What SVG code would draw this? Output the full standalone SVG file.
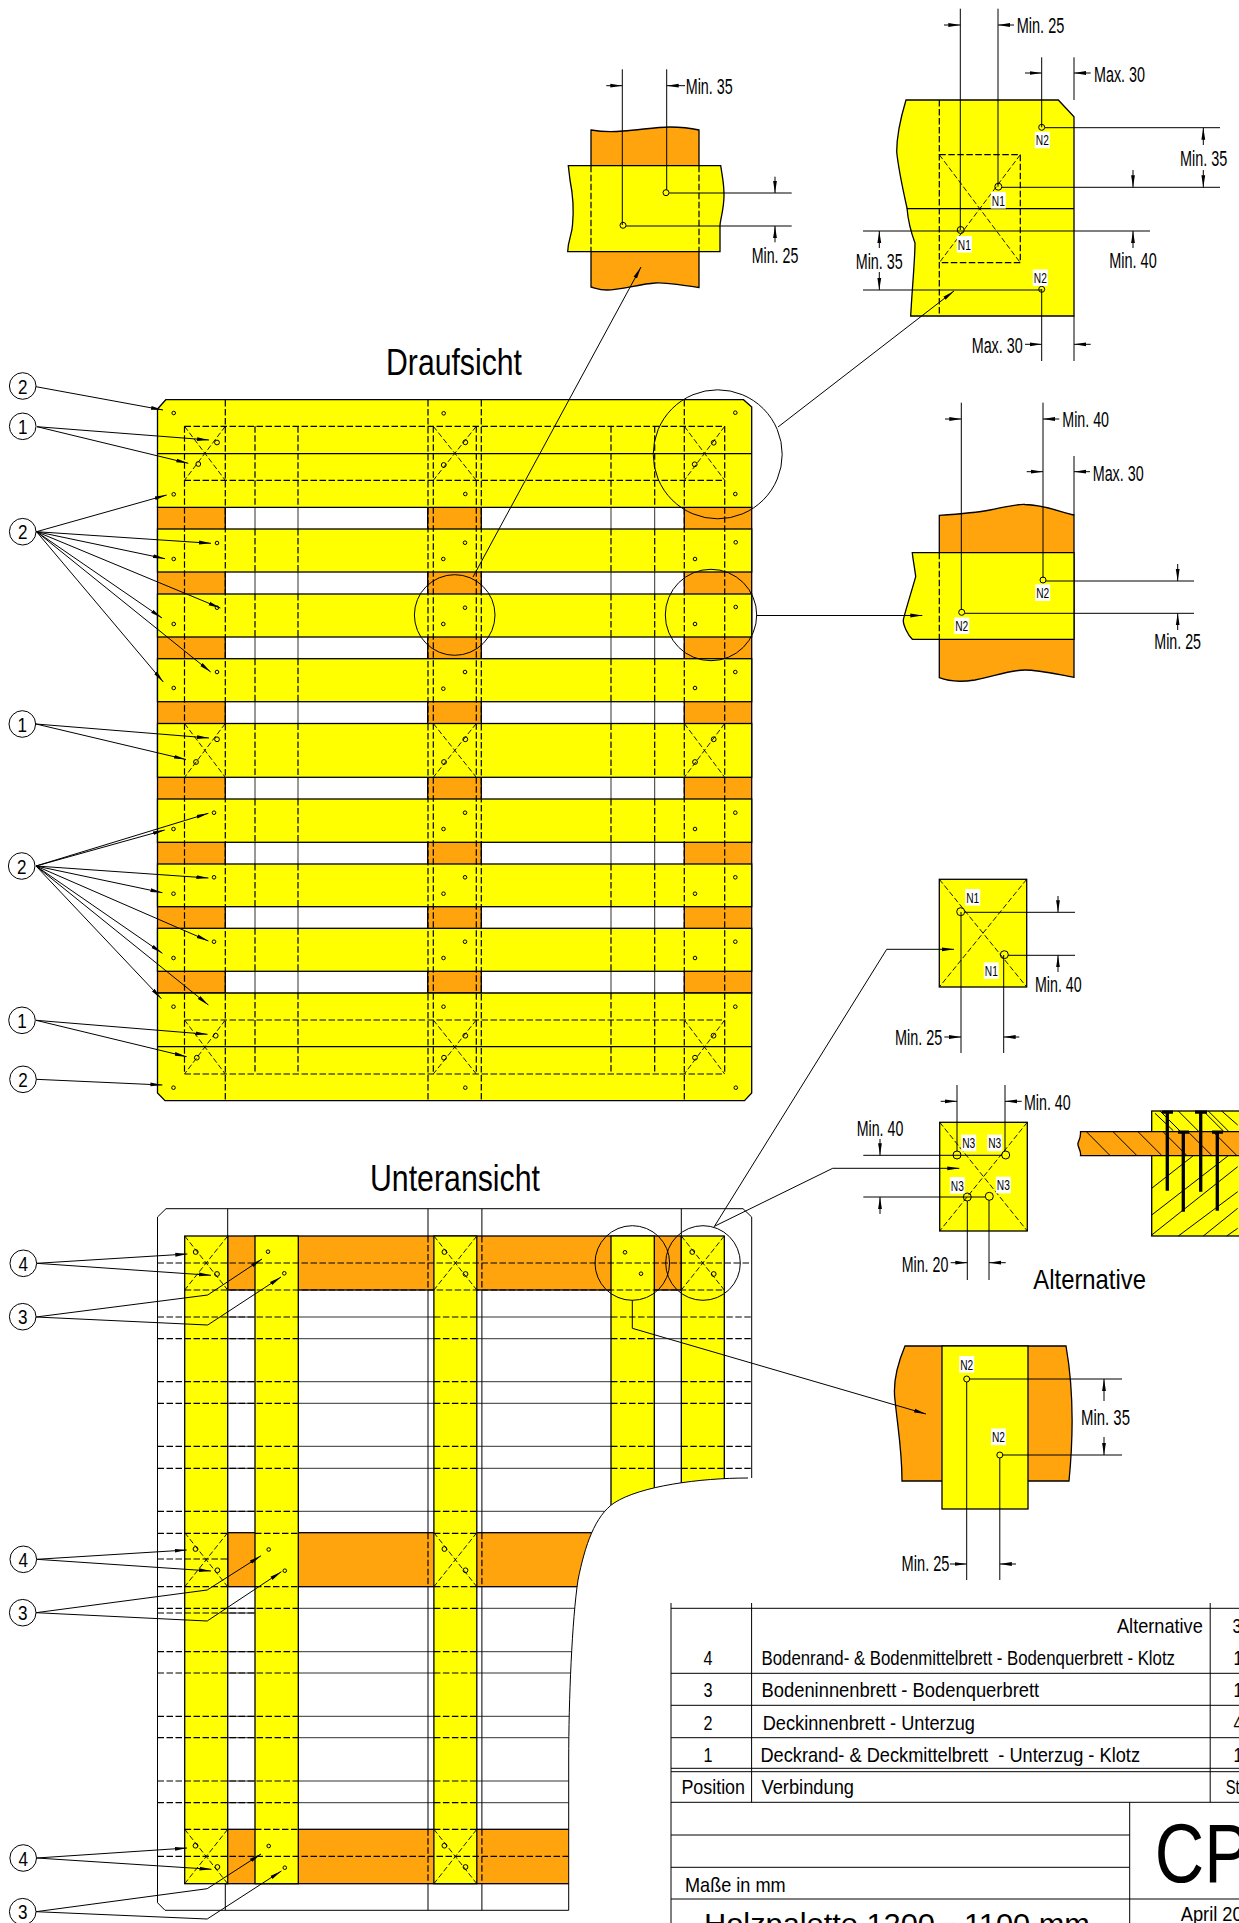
<svg xmlns="http://www.w3.org/2000/svg" width="1239" height="1923" viewBox="0 0 1239 1923">
<style>
text{font-family:"Liberation Sans",Arial,sans-serif;fill:#000}
.t{font-size:36px}.m{font-size:22px}.b{font-size:21px}.k{font-size:21px;text-anchor:middle}
.n{font-size:14.5px;text-anchor:middle}
.y{fill:#ff0;stroke:#000;stroke-width:1.3}.o{fill:#ffa40c;stroke:#000;stroke-width:1.3}
.l{fill:none;stroke:#000;stroke-width:1}.h{fill:none;stroke:#000;stroke-width:1.3}
.g{fill:none;stroke:#333;stroke-width:1}
.d{fill:none;stroke:#000;stroke-width:1.2;stroke-dasharray:6.5 2.5}
.x{fill:none;stroke:#000;stroke-width:.9;stroke-dasharray:5.5 2.5}
.c{fill:none;stroke:#000;stroke-width:1}.r{fill:none;stroke:#000;stroke-width:1}
.q{fill:#fff;stroke:#000;stroke-width:1}
.a{fill:none;stroke:#000;stroke-width:1;marker-end:url(#ah)}
.w{fill:#fff;stroke:none}
.z{fill:none;stroke:#000;stroke-width:3.3}
</style>
<defs>
<marker id="ah" markerUnits="userSpaceOnUse" markerWidth="13" markerHeight="6" refX="12" refY="3" orient="auto"><path d="M0 1.1L12 3L0 4.9z" fill="#000"/></marker>
<clipPath id="brk"><path d="M157 1217L166 1208H743L752 1217V1478H748C700 1478 640 1486 614 1503C595 1516 585 1545 578 1580C572 1620 568.7 1700 568.7 1760V1911H165L157 1903Z"/></clipPath>
</defs>

<g id="title-top"><text class="t" x="386" y="375" textLength="136" lengthAdjust="spacingAndGlyphs">Draufsicht</text></g>
<g id="title-bottom"><text class="t" x="370" y="1190.7" textLength="170" lengthAdjust="spacingAndGlyphs">Unteransicht</text></g>

<g id="top-view">
<path class="g" d="M255 507V993M298 507V993M611 507V993M654.7 507V993"/>
<rect class="o" x="157.5" y="507" width="67.8" height="486"/>
<rect class="o" x="427.7" y="507" width="53.6" height="486"/>
<rect class="o" x="684.3" y="507" width="67.4" height="486"/>
<path class="y" d="M157.5 409L165.8 399.7H743.5L751.7 407V507.3H157.5Z"/>
<rect class="y" x="157.5" y="529" width="594.2" height="43"/>
<rect class="y" x="157.5" y="594" width="594.2" height="43"/>
<rect class="y" x="157.5" y="658.7" width="594.2" height="43"/>
<rect class="y" x="157.5" y="723.5" width="594.2" height="53.8"/>
<rect class="y" x="157.5" y="799" width="594.2" height="43.3"/>
<rect class="y" x="157.5" y="864" width="594.2" height="42.7"/>
<rect class="y" x="157.5" y="928.3" width="594.2" height="43"/>
<path class="y" d="M157.5 993H751.7V1093L744.5 1100.7H165L157.5 1093Z"/>
<path class="h" d="M157.5 453.7H751.7M157.5 1046.7H751.7"/>
<path class="d" d="M184.5 426.3V1074M225.3 400V1100.7M255 426.3V507M255 529V572M255 594V637M255 658.7V701.7M255 723.5V777.3M255 799V842.3M255 864V906.7M255 928.3V971.3M255 993V1074M298 426.3V507M298 529V572M298 594V637M298 658.7V701.7M298 723.5V777.3M298 799V842.3M298 864V906.7M298 928.3V971.3M298 993V1074M428 400V1100.7M433.3 426.3V1074M476.3 426.3V1074M481.3 400V1100.7M611 426.3V507M611 529V572M611 594V637M611 658.7V701.7M611 723.5V777.3M611 799V842.3M611 864V906.7M611 928.3V971.3M611 993V1074M654.7 426.3V507M654.7 529V572M654.7 594V637M654.7 658.7V701.7M654.7 723.5V777.3M654.7 799V842.3M654.7 864V906.7M654.7 928.3V971.3M654.7 993V1074M684.3 400V1100.7M724.7 426.3V1074M184.5 426.3H724.7M184.5 480.3H724.7M184.5 1020H724.7M184.5 1074H724.7"/>
<path class="x" d="M184.5 426.3L225.3 480.3M225.3 426.3L184.5 480.3M433.3 426.3L476.3 480.3M476.3 426.3L433.3 480.3M684.3 426.3L724.7 480.3M724.7 426.3L684.3 480.3M184.5 723.5L225.3 777.3M225.3 723.5L184.5 777.3M433.3 723.5L476.3 777.3M476.3 723.5L433.3 777.3M684.3 723.5L724.7 777.3M724.7 723.5L684.3 777.3M184.5 1020L225.3 1074M225.3 1020L184.5 1074M433.3 1020L476.3 1074M476.3 1020L433.3 1074M684.3 1020L724.7 1074M724.7 1020L684.3 1074"/>
<g id="top-rivets">
<circle class="r" cx="173.7" cy="413" r="1.8"/><circle class="r" cx="443.7" cy="413.3" r="1.8"/><circle class="r" cx="735.3" cy="412.7" r="1.8"/>
<circle class="r" cx="217" cy="442.5" r="2.4"/><circle class="r" cx="198.3" cy="464" r="2.4"/><circle class="r" cx="465.3" cy="442.3" r="2.4"/><circle class="r" cx="443.7" cy="465" r="2.4"/><circle class="r" cx="713.7" cy="442.7" r="2.4"/><circle class="r" cx="694.7" cy="464.3" r="2.4"/>
<circle class="r" cx="173.7" cy="494.3" r="1.8"/><circle class="r" cx="465.3" cy="494" r="1.8"/><circle class="r" cx="735.3" cy="494" r="1.8"/>
<circle class="r" cx="217" cy="543" r="1.8"/><circle class="r" cx="173.7" cy="559" r="1.8"/><circle class="r" cx="465" cy="542.7" r="1.8"/><circle class="r" cx="443.3" cy="559" r="1.8"/><circle class="r" cx="735.7" cy="542.3" r="1.8"/><circle class="r" cx="695" cy="559" r="1.8"/>
<circle class="r" cx="217" cy="607.7" r="1.8"/><circle class="r" cx="173.7" cy="624" r="1.8"/><circle class="r" cx="465" cy="607.7" r="1.8"/><circle class="r" cx="443.3" cy="624" r="1.8"/><circle class="r" cx="735.7" cy="607" r="1.8"/><circle class="r" cx="695" cy="624" r="1.8"/>
<circle class="r" cx="217" cy="672" r="1.8"/><circle class="r" cx="173.7" cy="688" r="1.8"/><circle class="r" cx="465" cy="672" r="1.8"/><circle class="r" cx="443.3" cy="688.7" r="1.8"/><circle class="r" cx="735.3" cy="672" r="1.8"/><circle class="r" cx="695" cy="688" r="1.8"/>
<circle class="r" cx="217" cy="739.3" r="2.4"/><circle class="r" cx="196" cy="762" r="2.4"/><circle class="r" cx="465.3" cy="739.3" r="2.4"/><circle class="r" cx="444" cy="762" r="2.4"/><circle class="r" cx="713.7" cy="739.3" r="2.4"/><circle class="r" cx="695" cy="762" r="2.4"/>
<circle class="r" cx="214" cy="812.7" r="1.8"/><circle class="r" cx="173.5" cy="829" r="1.8"/><circle class="r" cx="465" cy="812.7" r="1.8"/><circle class="r" cx="443.5" cy="829" r="1.8"/><circle class="r" cx="735.3" cy="812.7" r="1.8"/><circle class="r" cx="695" cy="829" r="1.8"/>
<circle class="r" cx="214" cy="877.3" r="1.8"/><circle class="r" cx="173.5" cy="893.7" r="1.8"/><circle class="r" cx="465" cy="877.3" r="1.8"/><circle class="r" cx="443.5" cy="893.7" r="1.8"/><circle class="r" cx="735.3" cy="877.3" r="1.8"/><circle class="r" cx="695" cy="893.7" r="1.8"/>
<circle class="r" cx="214" cy="941.7" r="1.8"/><circle class="r" cx="173.5" cy="958" r="1.8"/><circle class="r" cx="465" cy="941.7" r="1.8"/><circle class="r" cx="443.5" cy="958" r="1.8"/><circle class="r" cx="735.3" cy="941.7" r="1.8"/><circle class="r" cx="695" cy="958" r="1.8"/>
<circle class="r" cx="173.5" cy="1006.7" r="1.8"/><circle class="r" cx="443.5" cy="1006.7" r="1.8"/><circle class="r" cx="735.3" cy="1006.7" r="1.8"/>
<circle class="r" cx="215.7" cy="1035.7" r="2.4"/><circle class="r" cx="196.8" cy="1057.7" r="2.4"/><circle class="r" cx="465.3" cy="1035.7" r="2.4"/><circle class="r" cx="444" cy="1057.7" r="2.4"/><circle class="r" cx="713.5" cy="1035.7" r="2.4"/><circle class="r" cx="695" cy="1057.7" r="2.4"/>
<circle class="r" cx="173.5" cy="1087.7" r="1.8"/><circle class="r" cx="465.3" cy="1087.7" r="1.8"/><circle class="r" cx="735.8" cy="1087.7" r="1.8"/>
</g>
<g id="top-magnifiers">
<circle class="c" cx="717.7" cy="454.3" r="64.5"/><circle class="c" cx="454.7" cy="615" r="40.3"/><circle class="c" cx="711" cy="615" r="45.7"/>
</g>
</g>

<g id="bottom-view">
<path class="l" d="M157.5 1902.7V1217L166 1208.7H743L751.7 1217V1478M157.5 1902.7L165 1910.3H568.7M227.7 1208.7V1236M681.3 1208.7V1236M225.3 1883.7V1910.3"/>
<g clip-path="url(#brk)">
<path class="g" d="M184.7 1317H724M184.7 1338.7H724M184.7 1381.7H724M184.7 1403.3H724M184.7 1446.3H724M184.7 1468.3H724M184.7 1511.3H724M184.7 1608.3H724M184.7 1651.7H724M184.7 1673H724M184.7 1716.3H724M184.7 1737.7H724M184.7 1781H724M184.7 1802.7H724M227.7 1613H255"/>
<path class="l" d="M428 1208.7V1910.3M481.9 1208.7V1910.3"/>
<rect class="o" x="227.7" y="1236" width="453.6" height="54"/>
<rect class="o" x="227.7" y="1532.7" width="453.6" height="54"/>
<rect class="o" x="225.3" y="1829.3" width="500" height="54.4"/>
<rect class="y" x="184.7" y="1236" width="43" height="647.7"/>
<rect class="y" x="255" y="1236" width="43.3" height="647.7"/>
<rect class="y" x="433.9" y="1236" width="42.9" height="647.7"/>
<rect class="y" x="611" y="1236" width="43.3" height="647.7"/>
<rect class="y" x="681.3" y="1236" width="43" height="647.7"/>
<path class="d" d="M157.5 1263H751.7M184.7 1290H724.3M157.5 1317H298.3M433.9 1317H476.8M611 1317H654.3M681.3 1317H751.7M157.5 1338.7H298.3M433.9 1338.7H476.8M611 1338.7H654.3M681.3 1338.7H751.7M157.5 1381.7H298.3M433.9 1381.7H476.8M611 1381.7H654.3M681.3 1381.7H751.7M157.5 1403.3H298.3M433.9 1403.3H476.8M611 1403.3H654.3M681.3 1403.3H751.7M157.5 1446.3H298.3M433.9 1446.3H476.8M611 1446.3H654.3M681.3 1446.3H751.7M157.5 1468.3H298.3M433.9 1468.3H476.8M611 1468.3H654.3M681.3 1468.3H751.7M157.5 1511.3H298.3M433.9 1511.3H476.8M157.5 1533.3H227.7M255 1533.3H298.3M433.9 1533.3H476.8M157.5 1559H227.7M157.5 1586.7H227.7M255 1586.7H298.3M433.9 1586.7H476.8M157.5 1608.3H298.3M433.9 1608.3H476.8M157.5 1613H255M157.5 1651.7H298.3M433.9 1651.7H476.8M157.5 1673H298.3M433.9 1673H476.8M157.5 1716.3H298.3M433.9 1716.3H476.8M157.5 1737.7H298.3M433.9 1737.7H476.8M157.5 1781H298.3M433.9 1781H476.8M157.5 1802.7H298.3M433.9 1802.7H476.8M184.7 1829.3H227.7M255 1829.3H298.3M433.9 1829.3H476.8M157.5 1856.3H568.7M428 1236V1290M481.9 1236V1290M428 1532.7V1586.7M481.9 1532.7V1586.7M428 1829.3V1883.7M481.9 1829.3V1883.7"/>
</g>
<path class="x" d="M184.7 1236L227.7 1290M227.7 1236L184.7 1290M433.9 1236L476.8 1290M476.8 1236L433.9 1290M681.3 1236L724.3 1290M724.3 1236L681.3 1290M184.7 1532.7L227.7 1586.7M227.7 1532.7L184.7 1586.7M433.9 1532.7L476.8 1586.7M476.8 1532.7L433.9 1586.7M184.7 1829.3L227.7 1883.7M227.7 1829.3L184.7 1883.7M433.9 1829.3L476.8 1883.7M476.8 1829.3L433.9 1883.7"/>
<path class="l" d="M748 1478C700 1478 640 1486 614 1503C595 1516 585 1545 578 1580C572 1620 568.7 1700 568.7 1760V1910.3"/>
<g id="bottom-rivets">
<circle class="r" cx="195.7" cy="1252" r="2.4"/><circle class="r" cx="217" cy="1274" r="2.4"/><circle class="r" cx="268" cy="1251.7" r="1.8"/><circle class="r" cx="284.3" cy="1273.3" r="1.8"/><circle class="r" cx="444.4" cy="1252" r="2.4"/><circle class="r" cx="465.5" cy="1274" r="2.4"/><circle class="r" cx="625" cy="1252.3" r="1.8"/><circle class="r" cx="641" cy="1273.7" r="1.8"/><circle class="r" cx="692.3" cy="1252" r="2.4"/><circle class="r" cx="713.7" cy="1274" r="2.4"/>
<circle class="r" cx="195.5" cy="1549" r="2.4"/><circle class="r" cx="217.4" cy="1570.3" r="2.4"/><circle class="r" cx="268.7" cy="1549.5" r="1.8"/><circle class="r" cx="284.8" cy="1570.7" r="1.8"/><circle class="r" cx="444.4" cy="1549" r="2.4"/><circle class="r" cx="465.5" cy="1570.3" r="2.4"/>
<circle class="r" cx="195.5" cy="1845.7" r="2.4"/><circle class="r" cx="217.4" cy="1867" r="2.4"/><circle class="r" cx="268.7" cy="1846" r="1.8"/><circle class="r" cx="284.8" cy="1867.7" r="1.8"/><circle class="r" cx="444.4" cy="1845.7" r="2.4"/><circle class="r" cx="465.5" cy="1867" r="2.4"/>
</g>
<g id="bottom-magnifiers"><circle class="c" cx="632.3" cy="1263" r="37.3"/><circle class="c" cx="703" cy="1263" r="37.3"/></g>
</g>

<g id="detail-1">
<path class="o" d="M591 130C603 132 612 132 623 131C640 130 655 127 670 127C685 127 690 128 699 130V287.5C680 285 665 282 655 283C640 284 620 290 607 290C600 290 595 288 591 287Z"/>
<path class="y" d="M568.3 165.7H720.7C722 175 724 182 724 195C724 210 720 220 720 226V251.7H567.7C568 240 572 235 572.5 225C574 210 573 195 570 180Z"/>
<path class="d" d="M591 165.7V251.7M699 165.7V251.7"/>
<path class="l" d="M622.3 69.3V225M666.7 69.3V190M669.3 193H791.7M626 226H791.7"/>
<circle class="r" cx="666" cy="192.7" r="3"/><circle class="r" cx="623" cy="225.3" r="3"/>
<path class="a" d="M606.3 85.7H622.3"/><path class="a" d="M685 85.7H666.7"/><path class="a" d="M775 176.7V193"/><path class="a" d="M775 242.3V226"/>
<text class="m" x="685.7" y="94" textLength="47" lengthAdjust="spacingAndGlyphs">Min. 35</text>
<text class="m" x="751.7" y="262.7" textLength="46.6" lengthAdjust="spacingAndGlyphs">Min. 25</text>
</g>

<g id="detail-2">
<path class="y" d="M906 100H1058.3L1074 116.7V316H910.7C912 290 915 260 915 243C912 235 908 220 907 208C903 190 898 165 896.7 151.7C896.7 140 900 120 906 100Z"/>
<path class="h" d="M906.7 208.7H1074"/>
<path class="d" d="M939.3 100V316M939.3 154.7H1020.3V262.7H939.3"/>
<path class="x" d="M939.3 154.7L1020.3 262.7M1020.3 154.7L939.3 262.7"/>
<path class="l" d="M960.3 8.7V230M998 8.7V186.7M1041.7 57.3V127.3M1074 57.3V100M1074 316V361M1041.7 289V361M1045 127.7H1220M1002 187.3H1220M863 231H1150M863 290H1041.7"/>
<circle class="r" cx="1041.7" cy="127.3" r="3"/><circle class="r" cx="998.3" cy="186.7" r="3.5"/><circle class="r" cx="960.7" cy="230" r="3.5"/><circle class="r" cx="1041.7" cy="289.3" r="3"/>
<path class="a" d="M944 25H960.3"/><path class="a" d="M1014 25H998"/><path class="a" d="M1025 73H1041.7"/><path class="a" d="M1090.7 73H1074"/>
<path class="a" d="M1203.3 145V127.7"/><path class="a" d="M1203.3 170V187.3"/><path class="a" d="M1133 170V187.3"/><path class="a" d="M1133 248V231"/><path class="a" d="M879.3 248V231"/><path class="a" d="M879.3 272V290"/><path class="a" d="M1025 344.3H1041.7"/><path class="a" d="M1090.7 344.3H1074"/>
<text class="m" x="1016.7" y="33.3" textLength="47.6" lengthAdjust="spacingAndGlyphs">Min. 25</text>
<text class="m" x="1094" y="81.7" textLength="51" lengthAdjust="spacingAndGlyphs">Max. 30</text>
<text class="m" x="1180" y="165.7" textLength="47.3" lengthAdjust="spacingAndGlyphs">Min. 35</text>
<text class="m" x="1109.3" y="267.7" textLength="47.4" lengthAdjust="spacingAndGlyphs">Min. 40</text>
<text class="m" x="855.7" y="269" textLength="47" lengthAdjust="spacingAndGlyphs">Min. 35</text>
<text class="m" x="971.7" y="353.3" textLength="51" lengthAdjust="spacingAndGlyphs">Max. 30</text>
<g><rect class="w" x="1034.8" y="131.7" width="15" height="16.6"/><text class="n" x="1042.3" y="145.2" textLength="13" lengthAdjust="spacingAndGlyphs">N2</text></g>
<g><rect class="w" x="990.8" y="192" width="15" height="16.6"/><text class="n" x="998.3" y="205.5" textLength="13" lengthAdjust="spacingAndGlyphs">N1</text></g>
<g><rect class="w" x="956.8" y="236" width="15" height="16.6"/><text class="n" x="964.3" y="249.5" textLength="13" lengthAdjust="spacingAndGlyphs">N1</text></g>
<g><rect class="w" x="1032.8" y="269.4" width="15" height="16.6"/><text class="n" x="1040.3" y="282.9" textLength="13" lengthAdjust="spacingAndGlyphs">N2</text></g>
</g>

<g id="detail-3">
<path class="o" d="M939.3 515.3C960 514 975 513 990 510C1005 507 1015 504 1025 504.5C1045 505 1060 512 1074 515V677.3C1060 675 1040 670 1025 670C1010 670 995 676 975 680C962 682 950 682 939.3 677.7Z"/>
<path class="y" d="M912.3 552.7H1074V639.3H912.3C908 635 903 625 903.3 620C905 612 912 590 915.7 576.7C915 570 913 560 912.3 552.7Z"/>
<path class="d" d="M939.3 552.7V639.3"/>
<path class="l" d="M961.3 402.7V610M1043 402.7V578M1074 456V515.3M1046 581H1194M965 613.3H1194"/>
<circle class="r" cx="1043" cy="580" r="3"/><circle class="r" cx="961.7" cy="612.3" r="3"/>
<path class="a" d="M945 419H961.3"/><path class="a" d="M1059.3 419H1043"/><path class="a" d="M1026.7 471.7H1043"/><path class="a" d="M1090 471.7H1074"/><path class="a" d="M1177.7 564V581"/><path class="a" d="M1177.7 630V613.3"/>
<text class="m" x="1062.3" y="427.3" textLength="46.7" lengthAdjust="spacingAndGlyphs">Min. 40</text>
<text class="m" x="1092.7" y="480.7" textLength="51" lengthAdjust="spacingAndGlyphs">Max. 30</text>
<text class="m" x="1154.3" y="649.3" textLength="46.7" lengthAdjust="spacingAndGlyphs">Min. 25</text>
<g><rect class="w" x="1035.2" y="584.4" width="15" height="16.6"/><text class="n" x="1042.7" y="597.9" textLength="13" lengthAdjust="spacingAndGlyphs">N2</text></g>
<g><rect class="w" x="954.2" y="617.4" width="15" height="16.6"/><text class="n" x="961.7" y="630.9" textLength="13" lengthAdjust="spacingAndGlyphs">N2</text></g>
</g>

<g id="detail-4">
<rect class="y" x="939.3" y="879.3" width="87.4" height="107.7"/>
<path class="x" d="M939.3 879.3L1026.7 987M1026.7 879.3L939.3 987"/>
<path class="l" d="M965 912.3H1075M1008 955.3H1075M961 912V1053M1003.7 955V1053"/>
<circle class="r" cx="960.7" cy="911.7" r="4"/><circle class="r" cx="1004.3" cy="954.7" r="4"/>
<path class="a" d="M1058 896V912.3"/><path class="a" d="M1058 972V955.3"/><path class="a" d="M944.3 1037H961"/><path class="a" d="M1019.3 1037H1003.7"/>
<text class="m" x="1035" y="992" textLength="46.7" lengthAdjust="spacingAndGlyphs">Min. 40</text>
<text class="m" x="895" y="1045" textLength="47.3" lengthAdjust="spacingAndGlyphs">Min. 25</text>
<g><rect class="w" x="965.2" y="889" width="15" height="16.6"/><text class="n" x="972.7" y="902.5" textLength="13" lengthAdjust="spacingAndGlyphs">N1</text></g>
<g><rect class="w" x="983.8" y="962.4" width="15" height="16.6"/><text class="n" x="991.3" y="975.9" textLength="13" lengthAdjust="spacingAndGlyphs">N1</text></g>
</g>

<g id="detail-5">
<rect class="y" x="939.7" y="1122.3" width="87.6" height="108.7"/>
<path class="x" d="M939.7 1122.3L1027.3 1231M1027.3 1122.3L939.7 1231"/>
<path class="l" d="M957 1085V1151M1005 1085V1151M863.3 1155.3H1002M863.3 1197H985.3M967.3 1201V1280M989 1200V1280"/>
<circle class="r" cx="957" cy="1155" r="4"/><circle class="r" cx="1005.7" cy="1155" r="4"/><circle class="r" cx="967.3" cy="1197" r="4"/><circle class="r" cx="989.3" cy="1196.3" r="4"/>
<path class="a" d="M940.7 1101.3H957"/><path class="a" d="M1021.7 1101.3H1005"/><path class="a" d="M880 1139V1155.3"/><path class="a" d="M880 1214V1197"/><path class="a" d="M950.7 1262.7H967.3"/><path class="a" d="M1005.7 1262.7H989"/>
<text class="m" x="1024" y="1110" textLength="46.7" lengthAdjust="spacingAndGlyphs">Min. 40</text>
<text class="m" x="856.7" y="1136" textLength="46.6" lengthAdjust="spacingAndGlyphs">Min. 40</text>
<text class="m" x="901.7" y="1271.7" textLength="46.6" lengthAdjust="spacingAndGlyphs">Min. 20</text>
<g><rect class="w" x="961.2" y="1134.7" width="15" height="16.6"/><text class="n" x="968.7" y="1148.2" textLength="13" lengthAdjust="spacingAndGlyphs">N3</text></g>
<g><rect class="w" x="987.2" y="1134.7" width="15" height="16.6"/><text class="n" x="994.7" y="1148.2" textLength="13" lengthAdjust="spacingAndGlyphs">N3</text></g>
<g><rect class="w" x="949.8" y="1177" width="15" height="16.6"/><text class="n" x="957.3" y="1190.5" textLength="13" lengthAdjust="spacingAndGlyphs">N3</text></g>
<g><rect class="w" x="995.8" y="1176.7" width="15" height="16.6"/><text class="n" x="1003.3" y="1190.2" textLength="13" lengthAdjust="spacingAndGlyphs">N3</text></g>
</g>

<g id="section">
<rect class="y" x="1151.7" y="1111" width="90" height="125"/>
<path class="l" d="M1155 1113.3L1173.3 1130.7M1160 1111L1180 1131M1178.3 1111L1198.3 1131M1203.3 1111L1223.3 1131M1208.3 1111L1228.3 1131M1221.7 1111L1237.7 1125M1151.7 1188.3L1193.3 1155.7M1151.7 1215L1228.3 1155.7M1151.7 1235L1237.7 1166.7M1178.3 1236L1237.7 1191.7M1203.3 1236L1237.7 1208.3M1226.7 1236L1237.7 1228.3"/>
<path class="o" d="M1080.5 1131.7H1241V1155.7H1080.5C1081.5 1150 1077 1147 1078 1143C1079.5 1139 1081 1137 1080.5 1131.7Z"/>
<path class="l" d="M1086.7 1132L1110 1155.5M1113.3 1132L1136.8 1155.5M1138.3 1132L1161.8 1155.5M1163.3 1132L1186.8 1155.5M1188.3 1132L1211.8 1155.5M1213.3 1132L1236.8 1155.5"/>
<path class="z" d="M1167.3 1112V1190.7M1200.7 1112V1191.7M1183.3 1132V1211.7M1217.3 1132V1210.7M1162 1112.2H1173M1195 1112.2H1207M1178 1132.2H1189M1212 1132.2H1223"/>
<text class="b" style="font-size:28px" x="1033.3" y="1289.3" textLength="112.7" lengthAdjust="spacingAndGlyphs">Alternative</text>
</g>

<g id="detail-6">
<path class="o" d="M905 1346H1066C1072 1380 1075 1420 1069 1481H902C902 1450 898 1430 895 1400C893 1385 897 1365 905 1346Z"/>
<rect class="y" x="942" y="1346" width="86" height="163"/>
<path class="l" d="M970 1379H1122M1003 1455H1122M966.7 1382V1580M999.8 1458V1580"/>
<circle class="r" cx="966.7" cy="1379" r="3"/><circle class="r" cx="999.8" cy="1455" r="3"/>
<path class="a" d="M1104 1401V1379"/><path class="a" d="M1104 1437V1455"/><path class="a" d="M950 1564H966.7"/><path class="a" d="M1016 1564H999.8"/>
<text class="m" x="1081" y="1425" textLength="49" lengthAdjust="spacingAndGlyphs">Min. 35</text>
<text class="m" x="901.6" y="1571" textLength="47.9" lengthAdjust="spacingAndGlyphs">Min. 25</text>
<g><rect class="w" x="959.2" y="1356" width="15" height="16.6"/><text class="n" x="966.7" y="1369.5" textLength="13" lengthAdjust="spacingAndGlyphs">N2</text></g>
<g><rect class="w" x="991" y="1428.5" width="15" height="16.6"/><text class="n" x="998.5" y="1442" textLength="13" lengthAdjust="spacingAndGlyphs">N2</text></g>
</g>

<g id="title-block">
<path class="l" d="M671 1603V1923M751.6 1603V1802.3M1210.2 1603V1802.3M1129.7 1802.3V1923M671 1608.3H1239M671 1673.3H1239M671 1705.3H1239M671 1737.7H1239M671 1768.3H1239M671 1771.7H1239M671 1802.3H1239M671 1835H1129.7M671 1867.3H1129.7M671 1899H1239"/>
<text class="b" x="1117" y="1632.7" textLength="85.8" lengthAdjust="spacingAndGlyphs">Alternative</text>
<text class="b" x="1232.4" y="1632.7" textLength="9" lengthAdjust="spacingAndGlyphs">3</text>
<text class="k" x="708" y="1665" textLength="9" lengthAdjust="spacingAndGlyphs">4</text>
<text class="b" x="761.5" y="1665" textLength="413.5" lengthAdjust="spacingAndGlyphs">Bodenrand- &amp; Bodenmittelbrett - Bodenquerbrett - Klotz</text>
<text class="b" x="1233.5" y="1665" textLength="9" lengthAdjust="spacingAndGlyphs">1</text>
<text class="k" x="708" y="1697.3" textLength="9" lengthAdjust="spacingAndGlyphs">3</text>
<text class="b" x="761.5" y="1697.3" textLength="277.7" lengthAdjust="spacingAndGlyphs">Bodeninnenbrett - Bodenquerbrett</text>
<text class="b" x="1233.5" y="1697.3" textLength="9" lengthAdjust="spacingAndGlyphs">1</text>
<text class="k" x="708" y="1730" textLength="9" lengthAdjust="spacingAndGlyphs">2</text>
<text class="b" x="762.7" y="1730" textLength="212.3" lengthAdjust="spacingAndGlyphs">Deckinnenbrett - Unterzug</text>
<text class="b" x="1233.5" y="1730" textLength="9" lengthAdjust="spacingAndGlyphs">4</text>
<text class="k" x="708" y="1762.3" textLength="9" lengthAdjust="spacingAndGlyphs">1</text>
<text class="b" x="760.4" y="1762.3" textLength="379.6" lengthAdjust="spacingAndGlyphs" xml:space="preserve">Deckrand- &amp; Deckmittelbrett  - Unterzug - Klotz</text>
<text class="b" x="1233.5" y="1762.3" textLength="9" lengthAdjust="spacingAndGlyphs">1</text>
<text class="b" x="681.4" y="1794.3" textLength="63.6" lengthAdjust="spacingAndGlyphs">Position</text>
<text class="b" x="761.5" y="1794.3" textLength="92.5" lengthAdjust="spacingAndGlyphs">Verbindung</text>
<text class="b" x="1225.7" y="1794.3" textLength="14" lengthAdjust="spacingAndGlyphs">St</text>
<text class="b" x="685" y="1891.7" textLength="100.6" lengthAdjust="spacingAndGlyphs">Maße in mm</text>
<text x="1154.8" y="1881.7" style="font-size:84px" textLength="95" lengthAdjust="spacingAndGlyphs">CP</text>
<text class="b" x="1180.7" y="1921" textLength="62" lengthAdjust="spacingAndGlyphs">April 20</text>
<text x="704" y="1934" style="font-size:30px" textLength="386" lengthAdjust="spacingAndGlyphs">Holzpalette 1200 <tspan style="font-size:20px">×</tspan> 1100 mm</text>
</g>

<g id="connectors">
<path class="a" d="M36 386.7L163 410"/>
<path class="a" d="M37 426.7L209 440"/><path class="a" d="M37 426.7L188.3 463.3"/>
<path class="a" d="M36.5 531.7L166.7 495"/><path class="a" d="M36.5 531.7L211 543.3"/><path class="a" d="M36.5 531.7L165 558.7"/><path class="a" d="M36.5 531.7L220.3 608"/><path class="a" d="M36.5 531.7L162 618"/><path class="a" d="M36.5 531.7L210.7 672"/><path class="a" d="M36.5 531.7L163.3 682"/>
<path class="a" d="M36 724L209 738"/><path class="a" d="M36 724L186 759.5"/>
<path class="a" d="M36 866L208.4 813.3"/><path class="a" d="M36 866L164.8 830"/><path class="a" d="M36 866L208.4 878"/><path class="a" d="M36 866L162.4 892.7"/><path class="a" d="M36 866L208.4 941"/><path class="a" d="M36 866L162.4 953.3"/><path class="a" d="M36 866L208.4 1005"/><path class="a" d="M36 866L161.4 998.7"/>
<path class="a" d="M36 1020.3L207.5 1034.3"/><path class="a" d="M36 1020.3L186.6 1056.7"/>
<path class="a" d="M36 1079.3L162.4 1085"/>
<path class="a" d="M473 577L641 267"/>
<path class="a" d="M778 427L954 291"/>
<path class="a" d="M756.7 615.5H922.3"/>
<path class="a" d="M36.7 1263.3L187.3 1254"/><path class="a" d="M36.7 1263.3L211 1275.3"/>
<path class="a" d="M36 1317L207.7 1295L262 1259"/><path class="a" d="M36 1317L207.7 1325L281 1277"/>
<path class="a" d="M36.7 1559.3L186.7 1550"/><path class="a" d="M36.7 1559.3L211 1571"/>
<path class="a" d="M36 1612.7L207.2 1590L261 1555.7"/><path class="a" d="M36 1612.7L207.2 1621L281.4 1571.7"/>
<path class="a" d="M36.7 1858L187 1848"/><path class="a" d="M36.7 1858L211.5 1869.3"/>
<path class="a" d="M36 1911.7L207.2 1888.7L261 1854"/><path class="a" d="M36 1911.7L207.2 1919L281.4 1871"/>
<path class="a" d="M632.3 1300.3V1328.3L926 1414"/>
<path class="a" d="M714 1227L886.7 949.3H954"/>
<path class="a" d="M715 1226L832.7 1168.3H959.3"/>
</g>

<g id="callouts">
<g id="c1"><circle class="q" cx="22.7" cy="386" r="13.3"/><text class="k" x="22.7" y="393.5" textLength="9.5" lengthAdjust="spacingAndGlyphs">2</text></g>
<g id="c2"><circle class="q" cx="22.7" cy="426.3" r="13.3"/><text class="k" x="22.7" y="433.8" textLength="9.5" lengthAdjust="spacingAndGlyphs">1</text></g>
<g id="c3"><circle class="q" cx="22.7" cy="531.7" r="13.3"/><text class="k" x="22.7" y="539.2" textLength="9.5" lengthAdjust="spacingAndGlyphs">2</text></g>
<g id="c4"><circle class="q" cx="22.3" cy="724" r="13.3"/><text class="k" x="22.3" y="731.5" textLength="9.5" lengthAdjust="spacingAndGlyphs">1</text></g>
<g id="c5"><circle class="q" cx="21.7" cy="866" r="13.3"/><text class="k" x="21.7" y="873.5" textLength="9.5" lengthAdjust="spacingAndGlyphs">2</text></g>
<g id="c6"><circle class="q" cx="22" cy="1020.3" r="13.3"/><text class="k" x="22" y="1027.8" textLength="9.5" lengthAdjust="spacingAndGlyphs">1</text></g>
<g id="c7"><circle class="q" cx="23" cy="1079.3" r="13.3"/><text class="k" x="23" y="1086.8" textLength="9.5" lengthAdjust="spacingAndGlyphs">2</text></g>
<g id="c8"><circle class="q" cx="23.3" cy="1263.3" r="13.3"/><text class="k" x="23.3" y="1270.8" textLength="9.5" lengthAdjust="spacingAndGlyphs">4</text></g>
<g id="c9"><circle class="q" cx="22.7" cy="1316.7" r="13.3"/><text class="k" x="22.7" y="1324.2" textLength="9.5" lengthAdjust="spacingAndGlyphs">3</text></g>
<g id="c10"><circle class="q" cx="23.3" cy="1559.3" r="13.3"/><text class="k" x="23.3" y="1566.8" textLength="9.5" lengthAdjust="spacingAndGlyphs">4</text></g>
<g id="c11"><circle class="q" cx="22.7" cy="1612.7" r="13.3"/><text class="k" x="22.7" y="1620.2" textLength="9.5" lengthAdjust="spacingAndGlyphs">3</text></g>
<g id="c12"><circle class="q" cx="23.2" cy="1858" r="13.3"/><text class="k" x="23.2" y="1865.5" textLength="9.5" lengthAdjust="spacingAndGlyphs">4</text></g>
<g id="c13"><circle class="q" cx="22.7" cy="1911.7" r="13.3"/><text class="k" x="22.7" y="1919.2" textLength="9.5" lengthAdjust="spacingAndGlyphs">3</text></g>
</g>
</svg>
